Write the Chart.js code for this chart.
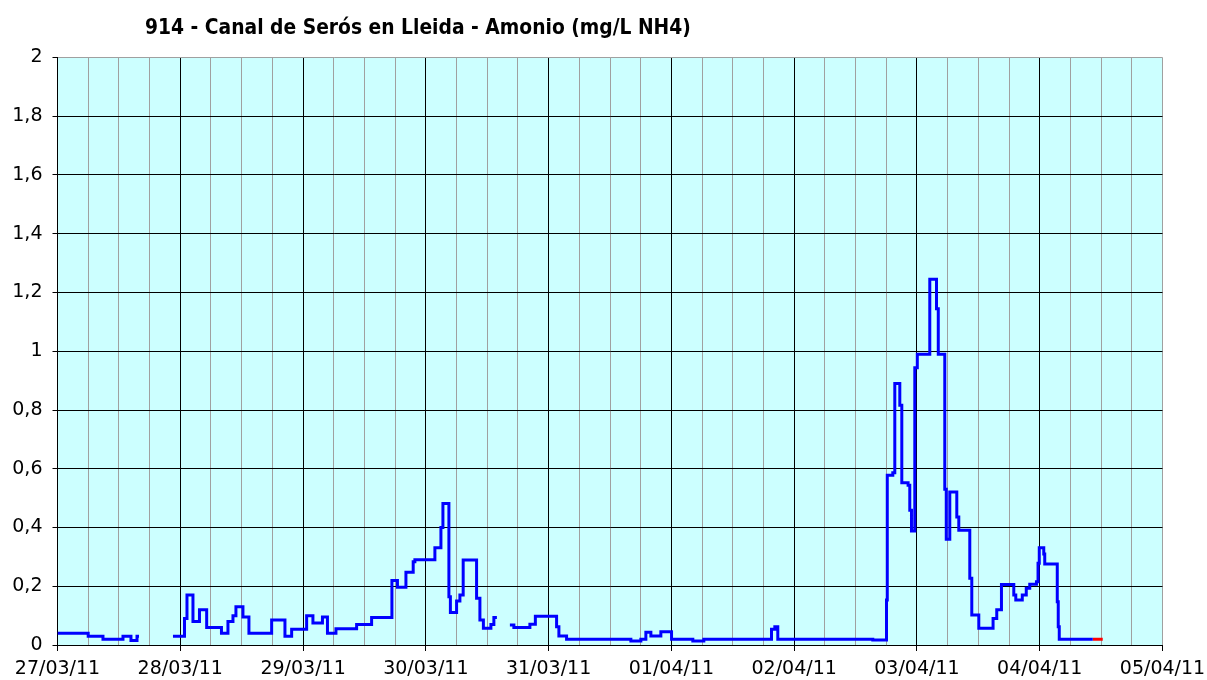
<!DOCTYPE html>
<html>
<head>
<meta charset="utf-8">
<script src="https://cdn.jsdelivr.net/npm/chart.js@4.4.0/dist/chart.umd.min.js"></script>
<style>
  html, body { margin: 0; padding: 0; background: #ffffff; }
  #c { display: block; }
</style>
</head>
<body>
<canvas id="c" width="1207" height="680"></canvas>
<script>
// ---- DATA ----
const chartTitle = '914 - Canal de Serós en Lleida - Amonio (mg/L NH4)';
// x tick labels, one per day (hours since 27/03/11 00:00 = index * 24)
const dayLabels = ['27/03/11', '28/03/11', '29/03/11', '30/03/11', '31/03/11',
                   '01/04/11', '02/04/11', '03/04/11', '04/04/11', '05/04/11'];
const yTickLabels = ['0', '0,2', '0,4', '0,6', '0,8', '1', '1,2', '1,4', '1,6', '1,8', '2'];

// Measured series: hours since 27/03/11 00:00, value (mg/L NH4); null = gap
const hours = [
  0, 6, 8.89, 12.8, 14.36, 15.54, 15.93, 16.5,
  22.57, 24.82, 25.31, 26.48, 27.75, 29.16, 32.05, 33.32, 34.3, 34.88, 36.25, 37.42,
  41.86, 44.46, 45.77, 48.7, 49.93, 51.79, 52.77, 54.43, 58.47, 61.4,
  65.37, 66.45, 68.11, 69.53, 69.86, 73.77, 74.95, 75.34, 76.51, 76.8,
  78.01, 78.66, 79.3, 81.92, 82.57, 83.25, 84.72, 85.3, 85.89, 86.5,
  88.43, 89.21, 92.34, 93.41, 97.56, 98.01, 99.51, 112.08, 114.03, 115.01,
  115.99, 117.94, 120.03, 124.19, 126.34, 139.57, 140.22, 140.8, 159.37, 162.05,
  162.2, 163.28, 163.67, 164.65, 165.04, 166.27, 166.6, 166.93, 167.58, 168.07,
  170.51, 171.82, 172.17, 173.44, 173.73, 174.42, 175.79, 176.18, 178.33, 178.72,
  180.09, 182.88, 183.6, 184.52, 186.93, 187.32, 188.59, 189.37, 190.05, 191.36,
  191.67, 191.91, 192.79, 192.98, 195.43, 195.62, 195.82, 202.37
];
const values = [
  0.04, 0.03, 0.02, 0.03, 0.015, 0.03, 0.03, null,
  0.03, 0.09, 0.17, 0.08, 0.12, 0.06, 0.04, 0.08, 0.10, 0.13, 0.095, 0.04,
  0.085, 0.03, 0.054, 0.10, 0.075, 0.095, 0.04, 0.055, 0.07, 0.094,
  0.22, 0.197, 0.248, 0.283, 0.29, 0.331, 0.40, 0.482, 0.164, 0.111,
  0.15, 0.17, 0.289, 0.159, 0.085, 0.057, 0.07, 0.094, 0.094, null,
  0.068, 0.06, 0.071, 0.098, 0.062, 0.031, 0.02, 0.014, 0.02, 0.043,
  0.031, 0.045, 0.02, 0.014, 0.02, 0.054, 0.062, 0.02, 0.017, 0.153,
  0.578, 0.586, 0.89, 0.816, 0.552, 0.544, 0.459, 0.388, 0.944, 0.99,
  1.245, 1.145, 0.99, 0.53, 0.36, 0.521, 0.436, 0.391, 0.227, 0.102,
  0.057, 0.09, 0.12, 0.206, 0.17, 0.153, 0.17, 0.193, 0.207, 0.215,
  0.278, 0.331, 0.31, 0.276, 0.147, 0.062, 0.02, 0.02
];
// Provisional (red) tail
const redHours = [202.37, 204.32];
const redValues = [0.02, 0.02];

// ---- CHART ----
const toPoints = (xs, ys) => xs.map((x, i) => ({ x: x, y: ys[i] }));

const bgPlugin = {
  id: 'plotBg',
  beforeDraw(chart) {
    const { ctx, chartArea: a } = chart;
    ctx.save();
    ctx.fillStyle = '#ccffff';
    ctx.fillRect(a.left, a.top, a.right - a.left, a.bottom - a.top);
    ctx.restore();
  },
  afterDraw(chart) {
    const { ctx } = chart;
    ctx.save();
    ctx.fillStyle = '#000000';
    ctx.font = 'bold 20.8px "DejaVu Sans Condensed", "DejaVu Sans", sans-serif';
    ctx.textAlign = 'left';
    ctx.textBaseline = 'alphabetic';
    ctx.fillText(chartTitle, 145, 34);
    ctx.restore();
  }
};

const tickFont = { family: '"DejaVu Sans", sans-serif', size: 19 };

new Chart(document.getElementById('c'), {
  type: 'line',
  data: {
    datasets: [
      {
        data: toPoints(hours, values),
        borderColor: '#0000ff',
        borderWidth: 3,
        pointRadius: 0,
        stepped: true,
        spanGaps: false,
        fill: false
      },
      {
        data: toPoints(redHours, redValues),
        borderColor: '#ff0000',
        borderWidth: 3,
        pointRadius: 0,
        stepped: true,
        fill: false
      }
    ]
  },
  options: {
    responsive: false,
    animation: false,
    layout: { padding: { top: 57.5, right: 44.5, left: 0, bottom: 0 } },
    plugins: { legend: { display: false }, tooltip: { enabled: false }, title: { display: false } },
    scales: {
      x: {
        type: 'linear',
        min: 0,
        max: 216,
        afterFit(scale) {
          scale.height = 35;
          scale.paddingLeft = 0;
          scale.paddingRight = 0;
        },
        border: { display: true, color: '#000000', width: 1 },
        grid: {
          color: (c) => {
            const v = c.tick ? c.tick.value : 0;
            return (v % 24 === 0 && v < 216) ? '#000000' : '#a0a0a0';
          },
          tickColor: (c) => {
            const v = c.tick ? c.tick.value : 0;
            return v % 24 === 0 ? '#000000' : 'rgba(0,0,0,0)';
          },
          lineWidth: 1,
          drawTicks: true,
          tickLength: 6
        },
        ticks: {
          stepSize: 6,
          autoSkip: false,
          maxRotation: 0,
          padding: 7,
          color: '#000000',
          font: tickFont,
          callback: (v) => (v % 24 === 0 ? dayLabels[v / 24] : '')
        }
      },
      y: {
        min: 0,
        max: 2,
        afterFit(scale) {
          scale.width = 57.5;
          scale.paddingTop = 0;
          scale.paddingBottom = 0;
        },
        border: { display: true, color: '#000000', width: 1 },
        grid: {
          color: (c) => {
            const v = c.tick ? c.tick.value : 0;
            return v >= 2 ? '#a0a0a0' : '#000000';
          },
          tickColor: '#000000',
          lineWidth: 1,
          tickLength: 5
        },
        ticks: {
          stepSize: 0.2,
          padding: 10,
          color: '#000000',
          font: tickFont,
          callback: (v) => yTickLabels[Math.round(v / 0.2)]
        }
      }
    }
  },
  plugins: [bgPlugin]
});
</script>
</body>
</html>
